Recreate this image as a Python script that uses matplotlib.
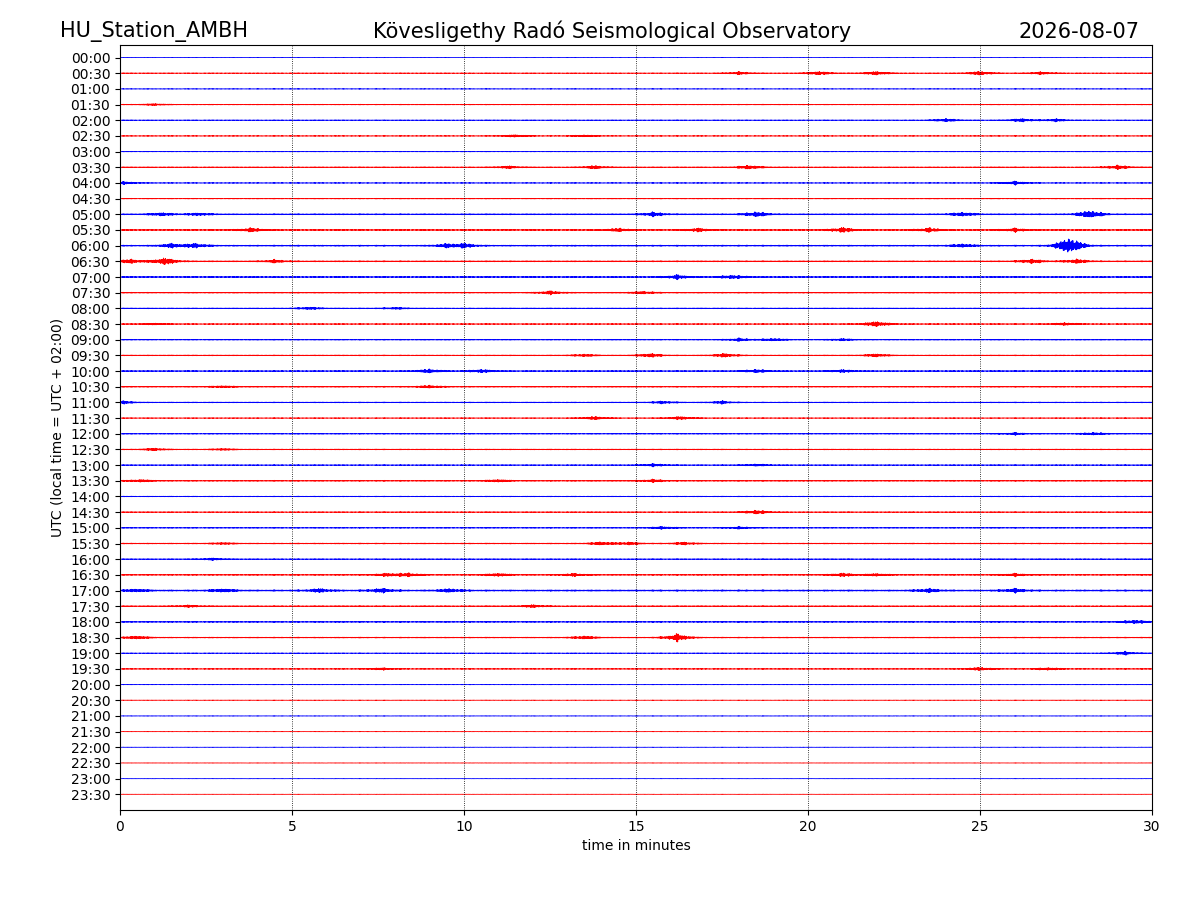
import sys

import numpy as np
from matplotlib import pyplot as plt

station = "HU_Station_AMBH"
observatory = "Kövesligethy Radó Seismological Observatory"
day = "2026-08-07"

row_labels = [f"{h:02d}:{m:02d}" for h in range(24) for m in (0, 30)]

# background noise level of each half-hour line
base_noise = [
    0.010, 0.025, 0.020, 0.025, 0.025, 0.025, 0.020, 0.030,
    0.025, 0.025, 0.040, 0.040, 0.045, 0.040, 0.040, 0.035,
    0.030, 0.030, 0.030, 0.030, 0.035, 0.035, 0.030, 0.025,
    0.030, 0.030, 0.030, 0.035, 0.025, 0.030, 0.030, 0.035,
    0.030, 0.035, 0.055, 0.035, 0.035, 0.035, 0.025, 0.030,
    0.015, 0.015, 0.015, 0.012, 0.012, 0.012, 0.010, 0.010,
]

# bursts: row label -> [(minute, amplitude), ...]
events = {
    "00:30": [(18.0, 0.08), (20.3, 0.12), (22.0, 0.12), (25.0, 0.12), (26.8, 0.08)],
    "01:30": [(1.0, 0.06)],
    "02:00": [(24.0, 0.10), (26.2, 0.10), (27.2, 0.08)],
    "02:30": [(11.5, 0.08), (13.5, 0.06)],
    "03:30": [(11.3, 0.08), (13.8, 0.10), (18.3, 0.12), (29.0, 0.12)],
    "04:00": [(0.1, 0.08), (26.0, 0.10)],
    "05:00": [(1.2, 0.10), (2.3, 0.08), (15.5, 0.12), (18.5, 0.15), (24.5, 0.12), (28.2, 0.25)],
    "05:30": [(3.8, 0.12), (14.5, 0.10), (16.8, 0.10), (21.0, 0.15), (23.5, 0.12), (26.0, 0.10)],
    "06:00": [(1.5, 0.12), (2.2, 0.12), (9.5, 0.10), (10.0, 0.12), (24.5, 0.10), (27.6, 0.55)],
    "06:30": [(0.3, 0.12), (1.3, 0.22), (4.5, 0.08), (26.5, 0.12), (27.8, 0.12)],
    "07:00": [(16.2, 0.12), (17.8, 0.12)],
    "07:30": [(12.5, 0.10), (15.2, 0.08)],
    "08:00": [(5.5, 0.08), (8.0, 0.06)],
    "08:30": [(1.0, 0.05), (22.0, 0.18), (27.5, 0.08)],
    "09:00": [(18.0, 0.08), (19.0, 0.08), (21.0, 0.06)],
    "09:30": [(13.5, 0.08), (15.4, 0.12), (17.6, 0.12), (22.0, 0.10)],
    "10:00": [(9.0, 0.12), (10.5, 0.10), (18.5, 0.10), (21.0, 0.08)],
    "10:30": [(3.0, 0.06), (9.0, 0.08)],
    "11:00": [(0.1, 0.08), (15.8, 0.08), (17.5, 0.08)],
    "11:30": [(13.8, 0.10), (16.3, 0.10)],
    "12:00": [(26.0, 0.06), (28.3, 0.08)],
    "12:30": [(1.0, 0.08), (3.0, 0.06)],
    "13:00": [(15.5, 0.08), (18.5, 0.06)],
    "13:30": [(0.6, 0.08), (11.0, 0.08), (15.5, 0.08)],
    "14:30": [(18.5, 0.12)],
    "15:00": [(15.8, 0.08), (18.0, 0.06)],
    "15:30": [(3.0, 0.06), (14.0, 0.10), (14.8, 0.08), (16.4, 0.08)],
    "16:00": [(2.7, 0.06)],
    "16:30": [(7.8, 0.10), (8.4, 0.10), (11.0, 0.10), (13.2, 0.08), (21.0, 0.10), (22.0, 0.08), (26.0, 0.08)],
    "17:00": [(0.5, 0.08), (3.0, 0.10), (5.8, 0.10), (7.6, 0.12), (9.6, 0.10), (23.5, 0.10), (26.0, 0.10)],
    "17:30": [(2.0, 0.06), (12.0, 0.08)],
    "18:00": [(29.5, 0.12)],
    "18:30": [(0.5, 0.10), (13.5, 0.10), (16.2, 0.22)],
    "19:00": [(29.2, 0.10)],
    "19:30": [(7.6, 0.06), (25.0, 0.10), (27.0, 0.08)],
}


def main() -> int:
    minutes = np.linspace(0, 30, 9000)
    carrier = (
        np.sin(2 * np.pi * minutes * 37.3)
        + 0.6 * np.sin(2 * np.pi * minutes * 91.7 + 1.0)
        + 0.4 * np.sin(minutes * 523.1)
    ) / 2.0
    carrier *= 0.6 + 0.4 * np.abs(np.sin(minutes * 13.7) * np.sin(minutes * 5.1 + 0.5))  # rough up the envelope

    fig = plt.figure(figsize=(12, 9))
    ax = fig.add_axes([0.1, 0.1, 0.86, 0.85])

    for i, label in enumerate(row_labels):
        envelope = np.full_like(minutes, base_noise[i])
        for t, amp in events.get(label, []):
            envelope += 0.8 * amp * np.exp(-(((minutes - t) / 0.4) ** 2))
            envelope += 0.5 * amp * np.exp(-(((minutes - t) / 0.08) ** 2))
        color = "b" if i % 2 == 0 else "r"
        ax.plot(minutes, -i + envelope * carrier, color=color, lw=0.6)

    ax.set_xlim(0, 30)
    ax.set_ylim(-len(row_labels), 0.8)
    ax.set_yticks(-np.arange(len(row_labels)))
    ax.set_yticklabels(row_labels)
    ax.set_xlabel("time in minutes")
    ax.set_ylabel("UTC (local time = UTC + 02:00)")
    for x in range(5, 30, 5):
        ax.axvline(x, color="k", ls=":", lw=0.6)

    fig.text(0.05, 0.965, station, fontsize=15, va="center")
    fig.text(0.51, 0.965, observatory, fontsize=15, ha="center", va="center")
    fig.text(0.95, 0.965, day, fontsize=15, ha="right", va="center")

    fig.savefig("out.png", dpi=100)
    return 0


if __name__ == "__main__":
    sys.exit(main())
